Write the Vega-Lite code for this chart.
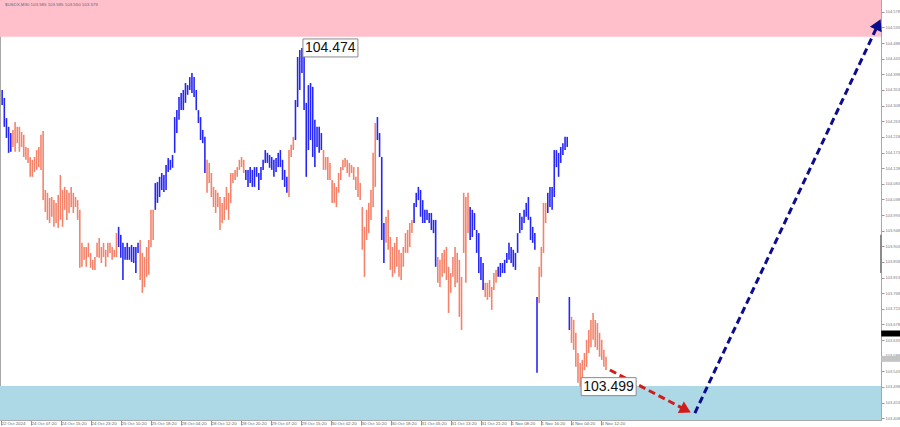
{
"$schema":"https://vega.github.io/schema/vega-lite/v6.json",
"width":881,"height":420,"autosize":"none",
"padding":{"left":0,"top":0,"right":19,"bottom":7},
"background":"white",
"config":{"view":{"stroke":"#a8a8a8","strokeWidth":1},"axis":{"grid":false,"labelOverlap":false,"labelFlush":false,"labelBound":false}},
"resolve":{"scale":{"color":"independent"}},
"datasets":{
"zones":[{"zone":"resistance","from":104.506,"to":104.612},{"zone":"support","from":103.403,"to":103.501}],
"bars":[
{"n":0,"h":104.353,"l":104.310,"w":"B"},{"n":1,"h":104.330,"l":104.247,"w":"B"},{"n":2,"h":104.272,"l":104.215,"w":"B"},{"n":3,"h":104.247,"l":104.172,"w":"B"},{"n":4,"h":104.229,"l":104.175,"w":"B"},
{"n":5,"h":104.238,"l":104.189,"w":"S"},{"n":6,"h":104.261,"l":104.175,"w":"S"},{"n":7,"h":104.247,"l":104.200,"w":"S"},{"n":8,"h":104.247,"l":104.175,"w":"S"},{"n":9,"h":104.232,"l":104.189,"w":"S"},
{"n":10,"h":104.224,"l":104.160,"w":"S"},{"n":11,"h":104.189,"l":104.152,"w":"S"},{"n":12,"h":104.186,"l":104.143,"w":"S"},{"n":13,"h":104.160,"l":104.103,"w":"S"},{"n":14,"h":104.152,"l":104.103,"w":"S"},
{"n":15,"h":104.160,"l":104.117,"w":"S"},{"n":16,"h":104.180,"l":104.123,"w":"S"},{"n":17,"h":104.189,"l":104.131,"w":"S"},{"n":18,"h":104.224,"l":104.123,"w":"S"},{"n":19,"h":104.235,"l":104.036,"w":"S"},
{"n":20,"h":104.065,"l":104.002,"w":"S"},{"n":21,"h":104.057,"l":103.979,"w":"S"},{"n":22,"h":104.042,"l":103.970,"w":"S"},{"n":23,"h":104.045,"l":103.988,"w":"S"},{"n":24,"h":104.036,"l":103.959,"w":"S"},
{"n":25,"h":104.028,"l":103.970,"w":"S"},{"n":26,"h":104.051,"l":103.956,"w":"S"},{"n":27,"h":104.108,"l":103.979,"w":"S"},{"n":28,"h":104.065,"l":103.959,"w":"S"},{"n":29,"h":104.074,"l":104.008,"w":"S"},
{"n":30,"h":104.065,"l":103.979,"w":"S"},{"n":31,"h":104.057,"l":103.999,"w":"S"},{"n":32,"h":104.074,"l":104.016,"w":"S"},{"n":33,"h":104.057,"l":103.999,"w":"S"},{"n":34,"h":104.045,"l":104.016,"w":"S"},
{"n":35,"h":104.036,"l":103.979,"w":"S"},{"n":36,"h":104.008,"l":103.841,"w":"S"},{"n":37,"h":103.913,"l":103.844,"w":"S"},{"n":38,"h":103.901,"l":103.864,"w":"S"},{"n":39,"h":103.901,"l":103.844,"w":"S"},
{"n":40,"h":103.913,"l":103.872,"w":"S"},{"n":41,"h":103.884,"l":103.841,"w":"S"},{"n":42,"h":103.864,"l":103.835,"w":"S"},{"n":43,"h":103.872,"l":103.835,"w":"S"},{"n":44,"h":103.913,"l":103.872,"w":"S"},
{"n":45,"h":103.927,"l":103.870,"w":"S"},{"n":46,"h":103.901,"l":103.855,"w":"S"},{"n":47,"h":103.913,"l":103.872,"w":"S"},{"n":48,"h":103.893,"l":103.844,"w":"S"},{"n":49,"h":103.913,"l":103.872,"w":"S"},
{"n":50,"h":103.913,"l":103.884,"w":"S"},{"n":51,"h":103.901,"l":103.864,"w":"S"},{"n":52,"h":103.893,"l":103.872,"w":"S"},{"n":53,"h":103.941,"l":103.872,"w":"S"},{"n":54,"h":103.959,"l":103.901,"w":"B"},
{"n":55,"h":103.936,"l":103.870,"w":"B"},{"n":56,"h":103.913,"l":103.806,"w":"B"},{"n":57,"h":103.901,"l":103.864,"w":"B"},{"n":58,"h":103.913,"l":103.864,"w":"B"},{"n":59,"h":103.901,"l":103.864,"w":"B"},
{"n":60,"h":103.907,"l":103.858,"w":"B"},{"n":61,"h":103.901,"l":103.855,"w":"B"},{"n":62,"h":103.901,"l":103.826,"w":"B"},{"n":63,"h":103.913,"l":103.884,"w":"B"},{"n":64,"h":103.921,"l":103.806,"w":"S"},
{"n":65,"h":103.884,"l":103.769,"w":"S"},{"n":66,"h":103.872,"l":103.786,"w":"S"},{"n":67,"h":103.901,"l":103.815,"w":"S"},{"n":68,"h":103.921,"l":103.821,"w":"S"},{"n":69,"h":104.008,"l":103.901,"w":"S"},
{"n":70,"h":104.008,"l":103.921,"w":"S"},{"n":71,"h":104.085,"l":104.008,"w":"B"},{"n":72,"h":104.088,"l":104.028,"w":"B"},{"n":73,"h":104.103,"l":104.045,"w":"B"},{"n":74,"h":104.114,"l":104.065,"w":"B"},
{"n":75,"h":104.108,"l":104.059,"w":"B"},{"n":76,"h":104.137,"l":104.065,"w":"B"},{"n":77,"h":104.157,"l":104.117,"w":"B"},{"n":78,"h":104.152,"l":104.123,"w":"B"},{"n":79,"h":104.166,"l":104.129,"w":"B"},
{"n":80,"h":104.275,"l":104.172,"w":"B"},{"n":81,"h":104.295,"l":104.229,"w":"B"},{"n":82,"h":104.333,"l":104.267,"w":"B"},{"n":83,"h":104.344,"l":104.295,"w":"B"},{"n":84,"h":104.353,"l":104.295,"w":"B"},
{"n":85,"h":104.373,"l":104.316,"w":"B"},{"n":86,"h":104.367,"l":104.339,"w":"B"},{"n":87,"h":104.390,"l":104.353,"w":"B"},{"n":88,"h":104.402,"l":104.344,"w":"B"},{"n":89,"h":104.390,"l":104.333,"w":"B"},
{"n":90,"h":104.353,"l":104.295,"w":"B"},{"n":91,"h":104.295,"l":104.258,"w":"B"},{"n":92,"h":104.275,"l":104.209,"w":"B"},{"n":93,"h":104.238,"l":104.200,"w":"B"},{"n":94,"h":104.218,"l":104.114,"w":"B"},
{"n":95,"h":104.152,"l":104.057,"w":"S"},{"n":96,"h":104.143,"l":104.085,"w":"S"},{"n":97,"h":104.114,"l":104.045,"w":"S"},{"n":98,"h":104.074,"l":104.016,"w":"S"},{"n":99,"h":104.065,"l":103.999,"w":"S"},
{"n":100,"h":104.057,"l":104.016,"w":"S"},{"n":101,"h":104.045,"l":103.950,"w":"S"},{"n":102,"h":104.028,"l":103.970,"w":"S"},{"n":103,"h":104.045,"l":103.979,"w":"S"},{"n":104,"h":104.074,"l":104.008,"w":"S"},
{"n":105,"h":104.057,"l":103.979,"w":"S"},{"n":106,"h":104.114,"l":104.028,"w":"S"},{"n":107,"h":104.114,"l":104.085,"w":"S"},{"n":108,"h":104.123,"l":104.094,"w":"S"},{"n":109,"h":104.131,"l":104.103,"w":"S"},
{"n":110,"h":104.152,"l":104.123,"w":"S"},{"n":111,"h":104.160,"l":104.131,"w":"S"},{"n":112,"h":104.152,"l":104.114,"w":"S"},{"n":113,"h":104.123,"l":104.094,"w":"B"},{"n":114,"h":104.123,"l":104.074,"w":"B"},
{"n":115,"h":104.131,"l":104.085,"w":"B"},{"n":116,"h":104.123,"l":104.074,"w":"B"},{"n":117,"h":104.131,"l":104.074,"w":"B"},{"n":118,"h":104.131,"l":104.103,"w":"B"},{"n":119,"h":104.114,"l":104.065,"w":"B"},
{"n":120,"h":104.131,"l":104.094,"w":"B"},{"n":121,"h":104.152,"l":104.123,"w":"B"},{"n":122,"h":104.180,"l":104.143,"w":"B"},{"n":123,"h":104.172,"l":104.143,"w":"B"},{"n":124,"h":104.166,"l":104.129,"w":"B"},
{"n":125,"h":104.160,"l":104.123,"w":"B"},{"n":126,"h":104.152,"l":104.103,"w":"B"},{"n":127,"h":104.157,"l":104.117,"w":"B"},{"n":128,"h":104.172,"l":104.131,"w":"B"},{"n":129,"h":104.180,"l":104.131,"w":"B"},
{"n":130,"h":104.152,"l":104.094,"w":"B"},{"n":131,"h":104.123,"l":104.074,"w":"B"},{"n":132,"h":104.103,"l":104.057,"w":"B"},{"n":133,"h":104.180,"l":104.045,"w":"S"},{"n":134,"h":104.195,"l":104.160,"w":"S"},
{"n":135,"h":104.218,"l":104.180,"w":"S"},{"n":136,"h":104.324,"l":104.209,"w":"B"},{"n":137,"h":104.448,"l":104.304,"w":"B"},{"n":138,"h":104.468,"l":104.353,"w":"B"},{"n":139,"h":104.474,"l":104.402,"w":"B"},
{"n":140,"h":104.454,"l":104.295,"w":"B"},{"n":141,"h":104.316,"l":104.103,"w":"B"},{"n":142,"h":104.367,"l":104.180,"w":"B"},{"n":143,"h":104.373,"l":104.209,"w":"B"},{"n":144,"h":104.362,"l":104.160,"w":"B"},
{"n":145,"h":104.267,"l":104.131,"w":"B"},{"n":146,"h":104.247,"l":104.189,"w":"B"},{"n":147,"h":104.247,"l":104.172,"w":"B"},{"n":148,"h":104.229,"l":104.180,"w":"B"},{"n":149,"h":104.180,"l":104.123,"w":"S"},
{"n":150,"h":104.160,"l":104.123,"w":"S"},{"n":151,"h":104.160,"l":104.094,"w":"S"},{"n":152,"h":104.143,"l":104.094,"w":"S"},{"n":153,"h":104.094,"l":104.028,"w":"S"},{"n":154,"h":104.085,"l":104.028,"w":"S"},
{"n":155,"h":104.074,"l":104.016,"w":"S"},{"n":156,"h":104.114,"l":104.057,"w":"S"},{"n":157,"h":104.131,"l":104.094,"w":"S"},{"n":158,"h":104.152,"l":104.123,"w":"S"},{"n":159,"h":104.157,"l":104.131,"w":"S"},
{"n":160,"h":104.152,"l":104.114,"w":"S"},{"n":161,"h":104.143,"l":104.103,"w":"S"},{"n":162,"h":104.137,"l":104.114,"w":"S"},{"n":163,"h":104.131,"l":104.094,"w":"S"},{"n":164,"h":104.103,"l":104.065,"w":"S"},
{"n":165,"h":104.131,"l":104.045,"w":"S"},{"n":166,"h":104.085,"l":104.036,"w":"S"},{"n":167,"h":104.016,"l":103.893,"w":"S"},{"n":168,"h":103.959,"l":103.815,"w":"S"},{"n":169,"h":104.008,"l":103.921,"w":"S"},
{"n":170,"h":104.028,"l":103.941,"w":"S"},{"n":171,"h":104.065,"l":103.979,"w":"S"},{"n":172,"h":104.172,"l":104.016,"w":"S"},{"n":173,"h":104.258,"l":104.074,"w":"S"},{"n":174,"h":104.275,"l":104.209,"w":"B"},
{"n":175,"h":104.229,"l":104.160,"w":"B"},{"n":176,"h":104.160,"l":103.921,"w":"B"},{"n":177,"h":103.970,"l":103.855,"w":"B"},{"n":178,"h":103.988,"l":103.913,"w":"S"},{"n":179,"h":104.008,"l":103.893,"w":"S"},
{"n":180,"h":103.930,"l":103.835,"w":"S"},{"n":181,"h":103.901,"l":103.815,"w":"S"},{"n":182,"h":103.913,"l":103.826,"w":"S"},{"n":183,"h":103.930,"l":103.844,"w":"S"},{"n":184,"h":103.893,"l":103.815,"w":"S"},
{"n":185,"h":103.884,"l":103.806,"w":"S"},{"n":186,"h":103.901,"l":103.844,"w":"S"},{"n":187,"h":103.941,"l":103.884,"w":"S"},{"n":188,"h":103.950,"l":103.884,"w":"S"},{"n":189,"h":103.970,"l":103.901,"w":"S"},
{"n":190,"h":103.979,"l":103.941,"w":"S"},{"n":191,"h":104.028,"l":103.970,"w":"B"},{"n":192,"h":104.057,"l":104.016,"w":"B"},{"n":193,"h":104.074,"l":104.036,"w":"B"},{"n":194,"h":104.065,"l":103.988,"w":"B"},
{"n":195,"h":104.036,"l":103.970,"w":"B"},{"n":196,"h":104.008,"l":103.970,"w":"B"},{"n":197,"h":104.008,"l":103.979,"w":"B"},{"n":198,"h":103.999,"l":103.970,"w":"B"},{"n":199,"h":103.999,"l":103.950,"w":"B"},
{"n":200,"h":103.979,"l":103.941,"w":"B"},{"n":201,"h":103.979,"l":103.844,"w":"B"},{"n":202,"h":103.872,"l":103.798,"w":"S"},{"n":203,"h":103.864,"l":103.786,"w":"S"},{"n":204,"h":103.884,"l":103.815,"w":"S"},
{"n":205,"h":103.893,"l":103.826,"w":"S"},{"n":206,"h":103.901,"l":103.806,"w":"S"},{"n":207,"h":103.844,"l":103.711,"w":"S"},{"n":208,"h":103.826,"l":103.769,"w":"S"},{"n":209,"h":103.872,"l":103.815,"w":"S"},
{"n":210,"h":103.901,"l":103.786,"w":"S"},{"n":211,"h":103.884,"l":103.798,"w":"S"},{"n":212,"h":103.864,"l":103.700,"w":"S"},{"n":213,"h":103.815,"l":103.662,"w":"S"},{"n":214,"h":104.057,"l":103.884,"w":"S"},
{"n":215,"h":104.045,"l":103.798,"w":"S"},{"n":216,"h":104.057,"l":103.941,"w":"S"},{"n":217,"h":104.016,"l":103.921,"w":"B"},{"n":218,"h":104.008,"l":103.930,"w":"B"},{"n":219,"h":103.999,"l":103.950,"w":"B"},
{"n":220,"h":103.950,"l":103.884,"w":"B"},{"n":221,"h":103.941,"l":103.826,"w":"B"},{"n":222,"h":103.872,"l":103.806,"w":"B"},{"n":223,"h":103.855,"l":103.777,"w":"B"},{"n":224,"h":103.798,"l":103.757,"w":"S"},
{"n":225,"h":103.798,"l":103.749,"w":"S"},{"n":226,"h":103.806,"l":103.757,"w":"S"},{"n":227,"h":103.786,"l":103.720,"w":"S"},{"n":228,"h":103.826,"l":103.777,"w":"S"},{"n":229,"h":103.835,"l":103.798,"w":"S"},
{"n":230,"h":103.844,"l":103.815,"w":"B"},{"n":231,"h":103.855,"l":103.815,"w":"B"},{"n":232,"h":103.855,"l":103.826,"w":"B"},{"n":233,"h":103.864,"l":103.826,"w":"B"},{"n":234,"h":103.884,"l":103.855,"w":"B"},
{"n":235,"h":103.913,"l":103.864,"w":"B"},{"n":236,"h":103.901,"l":103.855,"w":"B"},{"n":237,"h":103.893,"l":103.844,"w":"B"},{"n":238,"h":103.884,"l":103.835,"w":"B"},{"n":239,"h":103.941,"l":103.884,"w":"B"},
{"n":240,"h":103.999,"l":103.941,"w":"B"},{"n":241,"h":103.988,"l":103.950,"w":"B"},{"n":242,"h":104.008,"l":103.970,"w":"B"},{"n":243,"h":104.028,"l":103.988,"w":"B"},{"n":244,"h":104.045,"l":103.979,"w":"B"},
{"n":245,"h":103.988,"l":103.921,"w":"B"},{"n":246,"h":103.959,"l":103.913,"w":"B"},{"n":247,"h":103.941,"l":103.893,"w":"B"},{"n":248,"h":103.757,"l":103.539,"w":"B"},{"n":249,"h":103.844,"l":103.740,"w":"S"},
{"n":250,"h":103.901,"l":103.815,"w":"S"},{"n":251,"h":104.028,"l":103.884,"w":"S"},{"n":252,"h":104.028,"l":103.970,"w":"S"},{"n":253,"h":104.057,"l":103.999,"w":"B"},{"n":254,"h":104.074,"l":104.016,"w":"B"},
{"n":255,"h":104.074,"l":104.008,"w":"B"},{"n":256,"h":104.180,"l":104.045,"w":"B"},{"n":257,"h":104.180,"l":104.131,"w":"B"},{"n":258,"h":104.172,"l":104.103,"w":"B"},{"n":259,"h":104.189,"l":104.143,"w":"B"},
{"n":260,"h":104.200,"l":104.166,"w":"B"},{"n":261,"h":104.218,"l":104.180,"w":"B"},{"n":262,"h":104.218,"l":104.189,"w":"B"},{"n":263,"h":103.757,"l":103.662,"w":"B"},{"n":264,"h":103.700,"l":103.625,"w":"S"},
{"n":265,"h":103.691,"l":103.605,"w":"S"},{"n":266,"h":103.654,"l":103.556,"w":"S"},{"n":267,"h":103.596,"l":103.510,"w":"S"},{"n":268,"h":103.567,"l":103.499,"w":"S"},{"n":269,"h":103.576,"l":103.519,"w":"S"},
{"n":270,"h":103.596,"l":103.547,"w":"S"},{"n":271,"h":103.634,"l":103.556,"w":"S"},{"n":272,"h":103.662,"l":103.596,"w":"S"},{"n":273,"h":103.691,"l":103.613,"w":"S"},{"n":274,"h":103.711,"l":103.634,"w":"S"},
{"n":275,"h":103.691,"l":103.613,"w":"S"},{"n":276,"h":103.682,"l":103.605,"w":"S"},{"n":277,"h":103.654,"l":103.585,"w":"S"},{"n":278,"h":103.634,"l":103.576,"w":"S"},{"n":279,"h":103.605,"l":103.556,"w":"S"},
{"n":280,"h":103.585,"l":103.547,"w":"S"}
],
"arrows":[
{"arrow":"down","step":0,"n":281.8,"p":103.547},{"arrow":"down","step":1,"n":317.0,"p":103.432},
{"arrow":"up","step":0,"n":321.2,"p":103.423},{"arrow":"up","step":1,"n":406.2,"p":104.542}
],
"extremes":[{"n":139,"price":104.474,"label":"104.474"},{"n":268,"price":103.499,"label":"103.499"}],
"tags":[{"kind":"ask","price":103.652,"label":"103.652"},{"kind":"last","price":103.579,"label":"103.579"}],
"header":[{"text":"$USDX,M30  103.585 103.585 103.550 103.579"}]
},
"layer":[
{"data":{"name":"zones"},"mark":{"type":"rect"},
 "encoding":{
  "x":{"datum":-1,"type":"quantitative","scale":{"domain":[-1,407.5],"nice":false,"zero":false},"title":null},
  "x2":{"datum":407.5},
  "y":{"field":"from","type":"quantitative","scale":{"domain":[103.403,104.612],"nice":false,"zero":false},"title":null},
  "y2":{"field":"to"},
  "color":{"field":"zone","type":"nominal","scale":{"domain":["resistance","support"],"range":["#ffc0cb","#add8e6"]},"legend":null}
 }},
{"data":{"name":"bars"},"mark":{"type":"rule","strokeWidth":1.6},
 "encoding":{
  "x":{"field":"n","type":"quantitative","title":null,
   "axis":{"orient":"bottom","tickCount":200,"values":[-0.54,13.37,27.28,41.19,55.1,69.01,82.92,96.83,110.74,124.65,138.56,152.47,166.38,180.29,194.2,208.11,222.02,235.93,249.84,263.75,277.66],
   "labelExpr":"['22 Oct 2024','24 Oct 07:20','24 Oct 15:20','24 Oct 23:20','25 Oct 10:20','25 Oct 18:20','28 Oct 04:20','28 Oct 12:20','28 Oct 20:20','29 Oct 07:20','29 Oct 15:20','30 Oct 02:20','30 Oct 10:20','30 Oct 18:20','31 Oct 05:20','31 Oct 13:20','31 Oct 21:20','1 Nov 08:20','1 Nov 16:20','4 Nov 04:20','4 Nov 12:20'][round((datum.value+0.54)/13.91)]",
   "labelAlign":"left","labelBaseline":"top","labelPadding":-4,"labelDx":2,"tickSize":5,"labelFont":"Liberation Sans","labelFontSize":4.4,"labelColor":"#666","tickColor":"#999","domainColor":"#a8a8a8","labelOverlap":false,"labelFlush":false,"labelBound":false,"grid":false}},
  "y":{"field":"l","type":"quantitative","title":null,
   "axis":{"orient":"right","tickCount":200,"values":[104.578,104.533,104.488,104.443,104.398,104.353,104.308,104.263,104.218,104.173,104.128,104.083,104.038,103.993,103.948,103.903,103.858,103.813,103.768,103.723,103.678,103.633,103.588,103.543,103.498,103.453,103.408],
   "format":".3f","tickSize":3,"labelPadding":1,"labelFont":"Liberation Sans","labelFontSize":4,"labelColor":"#777","tickColor":"#999","domainColor":"#a8a8a8","labelOverlap":false,"labelFlush":false,"labelBound":false,"grid":false}},
  "y2":{"field":"h"},
  "color":{"field":"w","type":"nominal","scale":{"domain":["B","S"],"range":["#2727f5","#f4836b"]},"legend":null}
 }},
{"data":{"name":"arrows"},"transform":[{"filter":"datum.arrow==='down'"}],
 "mark":{"type":"line","color":"#d11c1c","strokeWidth":3,"strokeDash":[7,4]},
 "encoding":{"x":{"field":"n","type":"quantitative","title":null},"y":{"field":"p","type":"quantitative","title":null},"order":{"field":"step"}}},
{"data":{"name":"arrows"},"transform":[{"filter":"datum.arrow==='up'"}],
 "mark":{"type":"line","color":"#0c0c8c","strokeWidth":3,"strokeDash":[7,4]},
 "encoding":{"x":{"field":"n","type":"quantitative","title":null},"y":{"field":"p","type":"quantitative","title":null},"order":{"field":"step"}}},
{"data":{"name":"arrows"},"transform":[{"filter":"datum.arrow==='down' && datum.step===1"}],
 "mark":{"type":"point","shape":"triangle-right","filled":true,"size":170,"angle":27.7,"color":"#d11c1c","opacity":1},
 "encoding":{"x":{"field":"n","type":"quantitative","title":null},"y":{"field":"p","type":"quantitative","title":null}}},
{"data":{"name":"arrows"},"transform":[{"filter":"datum.arrow==='up' && datum.step===1"}],
 "mark":{"type":"point","shape":"triangle-right","filled":true,"size":170,"angle":295.2,"color":"#0c0c8c","opacity":1},
 "encoding":{"x":{"field":"n","type":"quantitative","title":null},"y":{"field":"p","type":"quantitative","title":null}}},
{"data":{"name":"extremes"},
 "mark":{"type":"rect","fill":"white","stroke":"#8a8a8a","strokeWidth":1,"xOffset":1,"x2Offset":56,"yOffset":-9,"y2Offset":9},
 "encoding":{"x":{"field":"n","type":"quantitative","title":null},"x2":{"field":"n"},"y":{"field":"price","type":"quantitative","title":null},"y2":{"field":"price"}}},
{"data":{"name":"extremes"},
 "mark":{"type":"text","align":"left","baseline":"middle","dx":3,"dy":0.5,"font":"Liberation Sans","fontSize":14,"color":"#111"},
 "encoding":{"x":{"field":"n","type":"quantitative","title":null},"y":{"field":"price","type":"quantitative","title":null},"text":{"field":"label"}}},
{"data":{"values":[{"from":103.826,"to":103.936}]},
 "mark":{"type":"rule","color":"#8c8c8c","strokeWidth":2},
 "encoding":{"x":{"datum":407.5,"type":"quantitative","title":null},"y":{"field":"from","type":"quantitative","title":null},"y2":{"field":"to"}}},
{"data":{"name":"tags"},
 "mark":{"type":"rect","yOffset":-3,"y2Offset":3},
 "encoding":{"x":{"datum":407.6,"type":"quantitative","title":null},"x2":{"datum":416.6},"y":{"field":"price","type":"quantitative","title":null},"y2":{"field":"price"},
  "fill":{"field":"kind","type":"nominal","scale":{"domain":["ask","last"],"range":["#000000","#c4c4c4"]},"legend":null}}},
{"data":{"name":"tags"},
 "mark":{"type":"text","align":"left","baseline":"middle","font":"Liberation Sans","fontSize":4,"dx":2},
 "encoding":{"x":{"datum":407.6,"type":"quantitative","title":null},"y":{"field":"price","type":"quantitative","title":null},"text":{"field":"label"},
  "fill":{"field":"kind","type":"nominal","scale":{"domain":["ask","last"],"range":["#ffffff","#333333"]},"legend":null}}},
{"data":{"name":"header"},
 "mark":{"type":"text","align":"left","baseline":"middle","font":"Liberation Sans","fontSize":4.4,"color":"#666"},
 "encoding":{"x":{"datum":1.3,"type":"quantitative","title":null},"y":{"datum":104.598,"type":"quantitative","title":null},"text":{"field":"text"}}}
]
}
